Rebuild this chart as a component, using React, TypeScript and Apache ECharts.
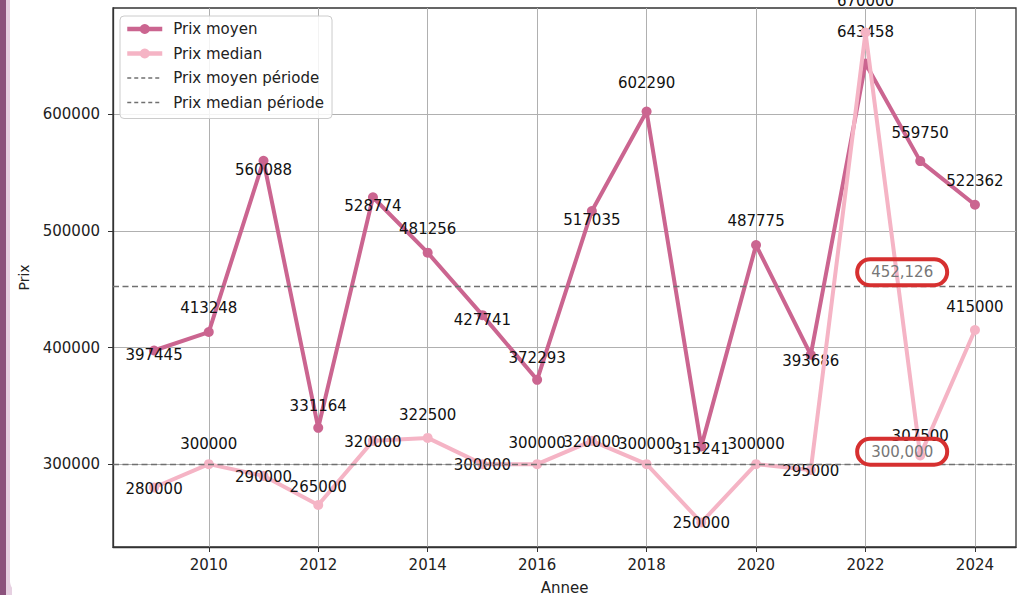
import React, { useEffect, useRef } from "react";
import * as echarts from "echarts";

// ---- data ----
const years = [2009, 2010, 2011, 2012, 2013, 2014, 2015, 2016, 2017, 2018, 2019, 2020, 2021, 2022, 2023, 2024];
const prixMoyen = [397445, 413248, 560088, 331164, 528774, 481256, 427741, 372293, 517035, 602290, 315241, 487775, 393686, 643458, 559750, 522362];
const prixMedian = [280000, 300000, 290000, 265000, 320000, 322500, 300000, 300000, 320000, 300000, 250000, 300000, 295000, 670000, 307500, 415000];
const moyenPeriode = 452126;
const medianPeriode = 300000;
const xTicks = [2010, 2012, 2014, 2016, 2018, 2020, 2022, 2024];
const yTicks = [300000, 400000, 500000, 600000];

// ---- label layout (vertical pixel offsets of value labels) ----
const moyenLabelDy = [5, -24, 9, -22, 9, -24, 5, -22, 9, -28, 3, -24, 6, -31, -28, -24];
const medianLabelDy = [1, -20, 1, -18, 1, -23, 1, -21, 1, -20, 0, -20, 1, -32, -19, -23];

const FONT = "DejaVu Sans";
const C_MOYEN = "#cb6590";
const C_MEDIAN = "#f5b4c5";
const C_DASH = "#707070";

export default function App() {
  const ref = useRef<HTMLDivElement>(null);
  useEffect(() => {
    if (!ref.current) return;
    const chart = echarts.init(ref.current, undefined, { renderer: "svg" });
    const fmt = (v: number) => v.toLocaleString("en-US");
    const labelStyle = { color: "#111", fontSize: 15, fontFamily: FONT };
    const annot = (v: number, dy: number) => ({
      coord: [2022.67, v],
      symbol: "circle",
      symbolSize: 0,
      label: {
        show: true,
        position: "inside",
        offset: [0, dy],
        formatter: fmt(v),
        color: "#777",
        fontSize: 15,
        fontFamily: FONT,
        borderColor: "#d63030",
        borderWidth: 2,
        borderRadius: 14,
        padding: [6, 14, 5, 14],
        backgroundColor: "transparent",
      },
    });
    const hiddenSym = { color: "rgba(0,0,0,0)", borderWidth: 0 };
    chart.setOption({
      animation: false,
      backgroundColor: "#ffffff",
      textStyle: { fontFamily: FONT },
      graphic: [
        { type: "rect", z: -10, shape: { x: 0, y: 0, width: 12, height: 595 }, style: { fill: "#e6d0e1" } },
        { type: "rect", z: -9, shape: { x: 10, y: -20, width: 1040, height: 613, r: [0, 0, 0, 12] }, style: { fill: "#ffffff" } },
        { type: "rect", z: -8, shape: { x: 0, y: 0, width: 6, height: 595 }, style: { fill: "#8b527c" } },
      ],
      grid: {
        left: 113,
        right: 13,
        top: 8,
        bottom: 48,
        outerBoundsMode: "none",
        containLabel: false,
        show: true,
        borderColor: "#333",
        borderWidth: 1.3,
        backgroundColor: "transparent",
      },
      legend: {
        orient: "vertical",
        left: 120,
        top: 16,
        padding: [5, 8, 8, 5],
        itemWidth: 35,
        itemHeight: 12.5,
        itemGap: 8.5,
        backgroundColor: "rgba(255,255,255,0.85)",
        borderColor: "#cccccc",
        borderWidth: 1,
        borderRadius: 4,
        textStyle: { color: "#222", fontSize: 15, fontFamily: FONT, lineHeight: 16, padding: [0, 0, 0, 6] },
        data: [
          { name: "Prix moyen", lineStyle: { width: 4.5 } },
          { name: "Prix median", lineStyle: { width: 4.5 } },
          { name: "Prix moyen période", itemStyle: hiddenSym, lineStyle: { width: 1.3 } },
          { name: "Prix median période", itemStyle: hiddenSym, lineStyle: { width: 1.3 } },
        ],
      },
      xAxis: {
        type: "value",
        min: 2008.25,
        max: 2024.75,
        name: "Annee",
        nameLocation: "middle",
        nameGap: 33,
        nameTextStyle: { color: "#222", fontSize: 15, fontFamily: FONT },
        axisLine: { show: true, lineStyle: { color: "#333", width: 1.3 } },
        axisTick: { show: true, length: 5, lineStyle: { color: "#333" }, customValues: xTicks },
        axisLabel: { color: "#222", fontSize: 15, fontFamily: FONT, margin: 10, customValues: xTicks, formatter: (v: number) => String(v) },
        splitLine: { show: true, lineStyle: { color: "#b0b0b0", width: 1 } },
      },
      yAxis: {
        type: "value",
        min: 229000,
        max: 691000,
        name: "Prix",
        nameLocation: "middle",
        nameGap: 82,
        nameRotate: 90,
        nameTextStyle: { color: "#222", fontSize: 14, fontFamily: FONT },
        axisLine: { show: true, lineStyle: { color: "#333", width: 1.3 } },
        axisTick: { show: true, length: 5, lineStyle: { color: "#333" }, customValues: yTicks },
        axisLabel: { color: "#222", fontSize: 15, fontFamily: FONT, margin: 13, customValues: yTicks, formatter: (v: number) => String(v) },
        splitLine: { show: true, lineStyle: { color: "#b0b0b0", width: 1 } },
      },
      series: [
        {
          name: "Prix moyen",
          type: "line",
          z: 3,
          data: years.map((y, i) => ({
            value: [y, prixMoyen[i]],
            label: { offset: [0, moyenLabelDy[i]] },
          })),
          symbol: "circle",
          symbolSize: 10,
          itemStyle: { color: C_MOYEN },
          lineStyle: { color: C_MOYEN, width: 4 },
          label: { show: true, position: "inside", formatter: (p: any) => String(p.value[1]), ...labelStyle },
        },
        {
          name: "Prix median",
          type: "line",
          z: 4,
          data: years.map((y, i) => ({
            value: [y, prixMedian[i]],
            label: { offset: [0, medianLabelDy[i]] },
          })),
          symbol: "circle",
          symbolSize: 10,
          itemStyle: { color: C_MEDIAN },
          lineStyle: { color: C_MEDIAN, width: 4 },
          label: { show: true, position: "inside", formatter: (p: any) => String(p.value[1]), ...labelStyle },
        },
        {
          name: "Prix moyen période",
          type: "line",
          z: 5,
          data: [],
          symbol: "none",
          itemStyle: { color: C_DASH },
          lineStyle: { color: C_DASH, width: 1.3, type: [4, 3] },
          markLine: {
            silent: true,
            symbol: "none",
            label: { show: false },
            lineStyle: { color: C_DASH, width: 1.3, type: [6, 3.5] },
            data: [{ yAxis: moyenPeriode }],
          },
          markPoint: { silent: true, data: [annot(moyenPeriode, -14.5)] },
        },
        {
          name: "Prix median période",
          type: "line",
          z: 5,
          data: [],
          symbol: "none",
          itemStyle: { color: C_DASH },
          lineStyle: { color: C_DASH, width: 1.3, type: [4, 3] },
          markLine: {
            silent: true,
            symbol: "none",
            label: { show: false },
            lineStyle: { color: C_DASH, width: 1.3, type: [6, 3.5] },
            data: [{ yAxis: medianPeriode }],
          },
          markPoint: { silent: true, data: [annot(medianPeriode, -12.5)] },
        },
      ],
    });
    return () => chart.dispose();
  }, []);
  return <div ref={ref} style={{ position: "fixed", left: 0, top: 0, width: 1029, height: 595 }} />;
}
